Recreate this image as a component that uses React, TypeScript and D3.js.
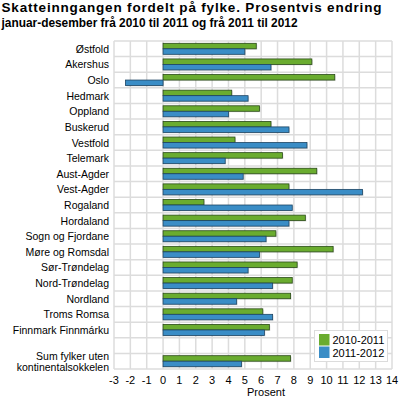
import React from "react";
import * as d3 from "d3";

const categories = [
  "Østfold", "Akershus", "Oslo", "Hedmark", "Oppland", "Buskerud", "Vestfold",
  "Telemark", "Aust-Agder", "Vest-Agder", "Rogaland", "Hordaland",
  "Sogn og Fjordane", "Møre og Romsdal", "Sør-Trøndelag", "Nord-Trøndelag",
  "Nordland", "Troms Romsa", "Finnmark Finnmárku", "", "Sum fylker uten|kontinentalsokkelen",
];
const series2010_2011: (number | null)[] = [
  5.7, 9.1, 10.5, 4.2, 5.9, 6.6, 4.4, 7.3, 9.4, 7.7, 2.5, 8.7, 6.9, 10.4, 8.2, 7.9, 7.8, 6.1, 6.5, null, 7.8,
];
const series2011_2012: (number | null)[] = [
  5.0, 6.6, -2.3, 5.2, 4.0, 7.7, 8.8, 3.8, 4.9, 12.2, 7.9, 7.7, 6.3, 5.9, 5.2, 6.7, 4.5, 6.7, 6.2, null, 4.8,
];
const xTicks = d3.range(-3, 15);
const seriesNames = ["2010-2011", "2011-2012"];
const colors = ["#6aac2f", "#3a8dc6"];
const strokes = ["#2a4a18", "#1d4563"];

export default function App() {
  const W = 399, H = 400;
  const x = d3.scaleLinear().domain([-3, 14]).range([114, 392]);
  const y = d3.scaleBand<number>().domain(d3.range(categories.length)).range([41, 369]);
  const bw = 5.5;
  const font = "Liberation Sans, Arial, sans-serif";
  const series = [series2010_2011, series2011_2012];
  const fs = 10.5;
  return (
    <svg width={W} height={H} style={{ position: "absolute", left: 0, top: 0 }} fontFamily={font}>
      <rect width={W} height={H} fill="#fff" />
      <text x={1.5} y={12} fontSize={13.5} fontWeight="bold" fill="#000" textLength={380}>
        Skatteinngangen fordelt på fylke. Prosentvis endring
      </text>
      <text x={1.5} y={27} fontSize={13.5} fontWeight="bold" fill="#000" textLength={296} lengthAdjust="spacingAndGlyphs">
        januar-desember frå 2010 til 2011 og frå 2011 til 2012
      </text>
      {/* gridlines */}
      {xTicks.map((t) => (
        <line key={"v" + t} x1={x(t)} x2={x(t)} y1={41} y2={369} stroke="#dcdcdc" strokeWidth={1.5} />
      ))}
      {d3.range(categories.length + 1).map((i) => {
        const yy = i < categories.length ? (y(i) as number) : 369;
        return <line key={"h" + i} x1={114} x2={392} y1={yy} y2={yy} stroke="#dcdcdc" strokeWidth={1.5} />;
      })}
      {/* bars */}
      {series.map((s, si) =>
        s.map((v, i) => {
          if (v == null) return null;
          const c = (y(i) as number) + y.bandwidth() / 2;
          const y0 = si === 0 ? c - bw : c;
          const x0 = x(Math.min(0, v));
          const w = Math.abs(x(v) - x(0));
          return (
            <g key={si + "-" + i}>
              <rect x={x0 + 1} y={y0 + 1} width={w} height={bw} fill="#000" opacity={0.12} />
              <rect x={x0} y={y0} width={w} height={bw} fill={colors[si]} stroke={strokes[si]} strokeWidth={0.8} />
            </g>
          );
        })
      )}
      {/* category labels */}
      {categories.map((c, i) => {
        const cy = (y(i) as number) + y.bandwidth() / 2;
        const parts = c.split("|");
        if (parts.length === 2) {
          return (
            <g key={"l" + i}>
              <text x={109} y={cy - 1} textAnchor="end" fontSize={fs} fill="#000">{parts[0]}</text>
              <text x={109} y={cy + 10} textAnchor="end" fontSize={fs} fill="#000">{parts[1]}</text>
            </g>
          );
        }
        return (
          <text key={"l" + i} x={109} y={cy + 4} textAnchor="end" fontSize={fs} fill="#000">{c}</text>
        );
      })}
      {/* x ticks */}
      {xTicks.map((t) => (
        <text key={"t" + t} x={x(t)} y={384} textAnchor="middle" fontSize={11} fill="#000">{t}</text>
      ))}
      <text x={266} y={396} textAnchor="middle" fontSize={11} fill="#000">Prosent</text>
      {/* legend */}
      <rect x={314.5} y={330.5} width={73} height={31} fill="#fff" stroke="#dcdcdc" strokeWidth={1} />
      {seriesNames.map((n, i) => (
        <g key={"lg" + i}>
          <rect x={319} y={334 + i * 12.5} width={10.5} height={11.5} fill={colors[i]} />
          <text x={332.5} y={344 + i * 12.5} fontSize={11} fill="#000">{n}</text>
        </g>
      ))}
    </svg>
  );
}
